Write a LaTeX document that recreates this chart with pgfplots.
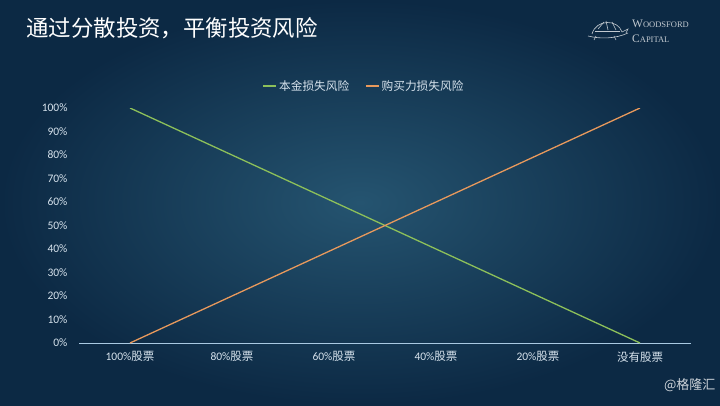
\documentclass[border=0pt]{standalone}
\usepackage{pgfplots}
\pgfplotsset{compat=1.18}
\usepackage{fontspec}
\setmainfont{Carlito}
\newfontfamily\cjk{Noto Sans CJK SC}
\newfontfamily\serifcaps{Liberation Serif}
\definecolor{bgin}{HTML}{255470}
\definecolor{bgout}{HTML}{0C2944}
\definecolor{lgreen}{HTML}{8DC05A}
\definecolor{lorange}{HTML}{E8995C}
\definecolor{axcol}{HTML}{A9C9E2}
\definecolor{txt}{HTML}{D6E2EC}
\begin{document}
\begin{tikzpicture}[x=1pt,y=1pt]
\shade[inner color=bgin, outer color=bgout] (0,0) rectangle (720,405);
\node[anchor=west, text=white, font=\cjk\fontsize{22.4}{26}\selectfont] at (23,377) {通过分散投资，平衡投资风险};
% logo
\begin{scope}[draw=white!75!bgout, line width=0.6pt]
\draw (592,371) .. controls (596,386) and (618,386) .. (622,373);
\draw (595,374) -- (620,374);
\draw (598,376) -- (604,383) (606,384) -- (608,375) (612,383) -- (616,375);
\draw (588,369) .. controls (600,366) and (615,366) .. (628,372);
\draw (622,373) -- (628,376) -- (626,372);
\draw (596,369) -- (594,365) (614,369) -- (616,365);
\end{scope}
\node[anchor=west, text=white!75!bgout, font=\serifcaps, inner sep=0] at (632,381) {\fontsize{11.5}{12}\selectfont W\fontsize{8.5}{9}\selectfont OODSFORD};
\node[anchor=west, text=white!75!bgout, font=\serifcaps, inner sep=0] at (632,366) {\fontsize{11.5}{12}\selectfont C\fontsize{8.5}{9}\selectfont APITAL};
\node[anchor=east, text=white!80!bgout, font=\cjk\fontsize{13}{15}\selectfont] at (719,20) {@格隆汇};
\begin{axis}[
  at={(79pt,62pt)}, anchor=south west,
  scale only axis, width=612pt, height=235pt,
  xmin=-0.5, xmax=5.5, ymin=0, ymax=100,
  axis lines*=left,
  x axis line style={draw=axcol, line width=0.8pt, -},
  y axis line style={draw=none},
  xtick={0,1,2,3,4,5},
  xticklabels={{100\%{\cjk 股票}},{80\%{\cjk 股票}},{60\%{\cjk 股票}},{40\%{\cjk 股票}},{20\%{\cjk 股票}},{{\cjk 没有股票}}},
  ytick={0,10,...,100},
  yticklabel={\pgfmathprintnumber{\tick}\%},
  /pgf/number format/assume math mode=true,
  major tick length=0pt,
  tick label style={text=txt, font=\fontsize{11.5}{13}\selectfont},
  xticklabel style={yshift=-5pt},
  yticklabel style={xshift=-8pt},
  legend columns=2,
  legend style={at={(0.466,1.094)}, anchor=center, draw=none, fill=none,
    text=txt, font=\cjk\fontsize{11.7}{13}\selectfont,
    /tikz/every even column/.append style={column sep=14pt}},
  legend image code/.code={\draw[#1] (0pt,0pt) -- (13pt,0pt);},
]
\addplot[lgreen, line width=1.3pt] coordinates {(0,100) (1,80) (2,60) (3,40) (4,20) (5,0)};
\addlegendentry{本金损失风险}
\addplot[lorange, line width=1.3pt] coordinates {(0,0) (1,20) (2,40) (3,60) (4,80) (5,100)};
\addlegendentry{购买力损失风险}
\end{axis}
\end{tikzpicture}
\end{document}
